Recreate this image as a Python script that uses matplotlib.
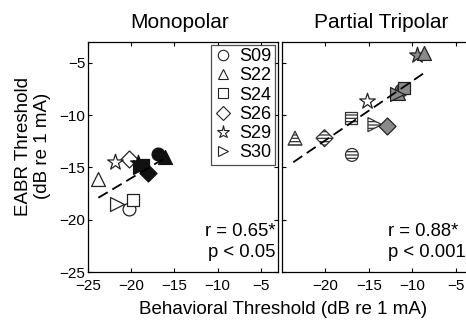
import matplotlib
matplotlib.use("Agg")
import matplotlib.pyplot as plt
from matplotlib.lines import Line2D

plt.rcParams['font.family'] = ['Liberation Sans', 'DejaVu Sans']
plt.rcParams['hatch.linewidth'] = 0.9

subjects = ['S09', 'S22', 'S24', 'S26', 'S29', 'S30']
markers = ['o', '^', 's', 'D', '*', '>']
msizes = [85, 100, 75, 75, 140, 100]

# Monopolar: open markers (one condition) and black filled (other)
mono_open_subj = [0, 1, 2, 3, 4, 5]
mono_open_x = [-20.2, -23.8, -19.8, -20.3, -21.9, -21.7]
mono_open_y = [-19.0, -16.1, -18.1, -14.2, -14.5, -18.5]
mono_fill_subj = [0, 1, 2, 3, 4, 5]
mono_fill_x = [-16.9, -16.1, -18.6, -18.0, -19.2, -19.0]
mono_fill_y = [-13.7, -14.0, -14.8, -15.5, -14.6, -15.0]
mono_fit_x = [-23.8, -16.3]
mono_fit_y = [-17.9, -14.2]

# Partial tripolar: striped, open and gray filled markers
tp_stripe_subj = [0, 1, 2, 3, 5]
tp_stripe_x = [-16.95, -23.5, -17.0, -20.1, -14.3]
tp_stripe_y = [-13.8, -12.2, -10.3, -12.2, -10.9]
tp_open_subj = [4]
tp_open_x = [-15.2]
tp_open_y = [-8.6]
tp_gray_subj = [0, 1, 2, 3, 4, 5, 1]
tp_gray_x = [-11.3, -11.6, -11.0, -12.9, -9.4, -11.8, -8.7]
tp_gray_y = [-7.6, -7.9, -7.4, -11.0, -4.2, -8.0, -4.1]
tp_fit_x = [-23.7, -8.7]
tp_fit_y = [-14.5, -6.0]

W, H = 466, 321
fig = plt.figure(figsize=(W / 100, H / 100), dpi=100)

def px(x0, y0, x1, y1):
    return [x0 / W, 1 - y1 / H, (x1 - x0) / W, (y1 - y0) / H]

axL = fig.add_axes(px(88, 42, 278, 272))
axR = fig.add_axes(px(282, 42, 473, 272))

def draw(ax, groups, fit_x, fit_y):
    for subj, xs, ys, style in groups:
        for s, x, y in zip(subj, xs, ys):
            if style == 'open':
                ax.scatter([x], [y], marker=markers[s], s=msizes[s], facecolor='white',
                           edgecolor='#222222', linewidth=0.9, zorder=3)
            elif style == 'black':
                ax.scatter([x], [y], marker=markers[s], s=msizes[s], facecolor='#111111',
                           edgecolor='#111111', linewidth=0.9, zorder=3)
            elif style == 'gray':
                ax.scatter([x], [y], marker=markers[s], s=msizes[s], facecolor='#8a8a8a',
                           edgecolor='#222222', linewidth=0.9, zorder=3)
            elif style == 'stripe':
                ax.scatter([x], [y], marker=markers[s], s=msizes[s], facecolor='white',
                           edgecolor='#333333', hatch='-----', linewidth=0.9, zorder=3)
    ax.plot(fit_x, fit_y, color='black', linestyle=(0, (6, 3)), linewidth=1.3, zorder=4)
    ax.set_xlim(-25, -3)
    ax.set_ylim(-25, -3)
    ax.tick_params(direction='in', top=True, right=True, length=3, labelsize=11,
                   width=0.8)
    ax.tick_params(axis='x', pad=5)
    ax.tick_params(axis='y', pad=2)
    for sp in ax.spines.values():
        sp.set_linewidth(0.9)

draw(axL, [(mono_open_subj, mono_open_x, mono_open_y, 'open'),
           (mono_fill_subj, mono_fill_x, mono_fill_y, 'black')], mono_fit_x, mono_fit_y)
draw(axR, [(tp_stripe_subj, tp_stripe_x, tp_stripe_y, 'stripe'),
           (tp_open_subj, tp_open_x, tp_open_y, 'open'),
           (tp_gray_subj, tp_gray_x, tp_gray_y, 'gray')], tp_fit_x, tp_fit_y)

axL.set_xticks([-25, -20, -15, -10, -5])
axL.set_yticks([-25, -20, -15, -10, -5])
axL.set_xticklabels(['\u221225', '\u221220', '\u221215', '\u221210', '\u22125'])
axL.set_yticklabels(['\u221225', '\u221220', '\u221215', '\u221210', '\u22125'])
axR.set_xticks([-20, -15, -10, -5])
axR.set_xticklabels(['\u221220', '\u221215', '\u221210', '\u22125'])
axR.set_yticks([-25, -20, -15, -10, -5])
axR.set_yticklabels([])

axL.set_title('Monopolar', fontsize=15, pad=10, x=0.48)
axR.set_title('Partial Tripolar', fontsize=15, pad=10, x=0.52)

axL.text(0.985, 0.178, 'r = 0.65*', transform=axL.transAxes, ha='right', va='center', fontsize=13.3)
axL.text(0.985, 0.083, 'p < 0.05', transform=axL.transAxes, ha='right', va='center', fontsize=13.3)
axR.text(0.555, 0.178, 'r = 0.88*', transform=axR.transAxes, ha='left', va='center', fontsize=13.3)
axR.text(0.555, 0.083, 'p < 0.001', transform=axR.transAxes, ha='left', va='center', fontsize=13.3)

handles = [Line2D([], [], marker=markers[i], linestyle='none', markerfacecolor='white',
                  markeredgecolor='#222222', markersize=7.5 if markers[i] != '*' else 9.5,
                  markeredgewidth=0.8) for i in range(6)]
leg = axL.legend(handles, subjects, loc='upper right', fontsize=13, frameon=True,
                 fancybox=False, edgecolor='#222222', borderaxespad=0.15,
                 handlelength=0.9, handletextpad=0.45, labelspacing=0.12,
                 borderpad=0.2)
leg.get_frame().set_linewidth(0.9)

fig.text(33 / W, 1 - 146 / H, 'EABR Threshold\n(dB re 1 mA)', rotation=90,
         ha='center', va='center', fontsize=13.5, linespacing=1.1)
fig.text(283 / W, 1 - 310 / H, 'Behavioral Threshold (dB re 1 mA)', ha='center',
         va='center', fontsize=13.5)

fig.savefig('out.png', dpi=100)
